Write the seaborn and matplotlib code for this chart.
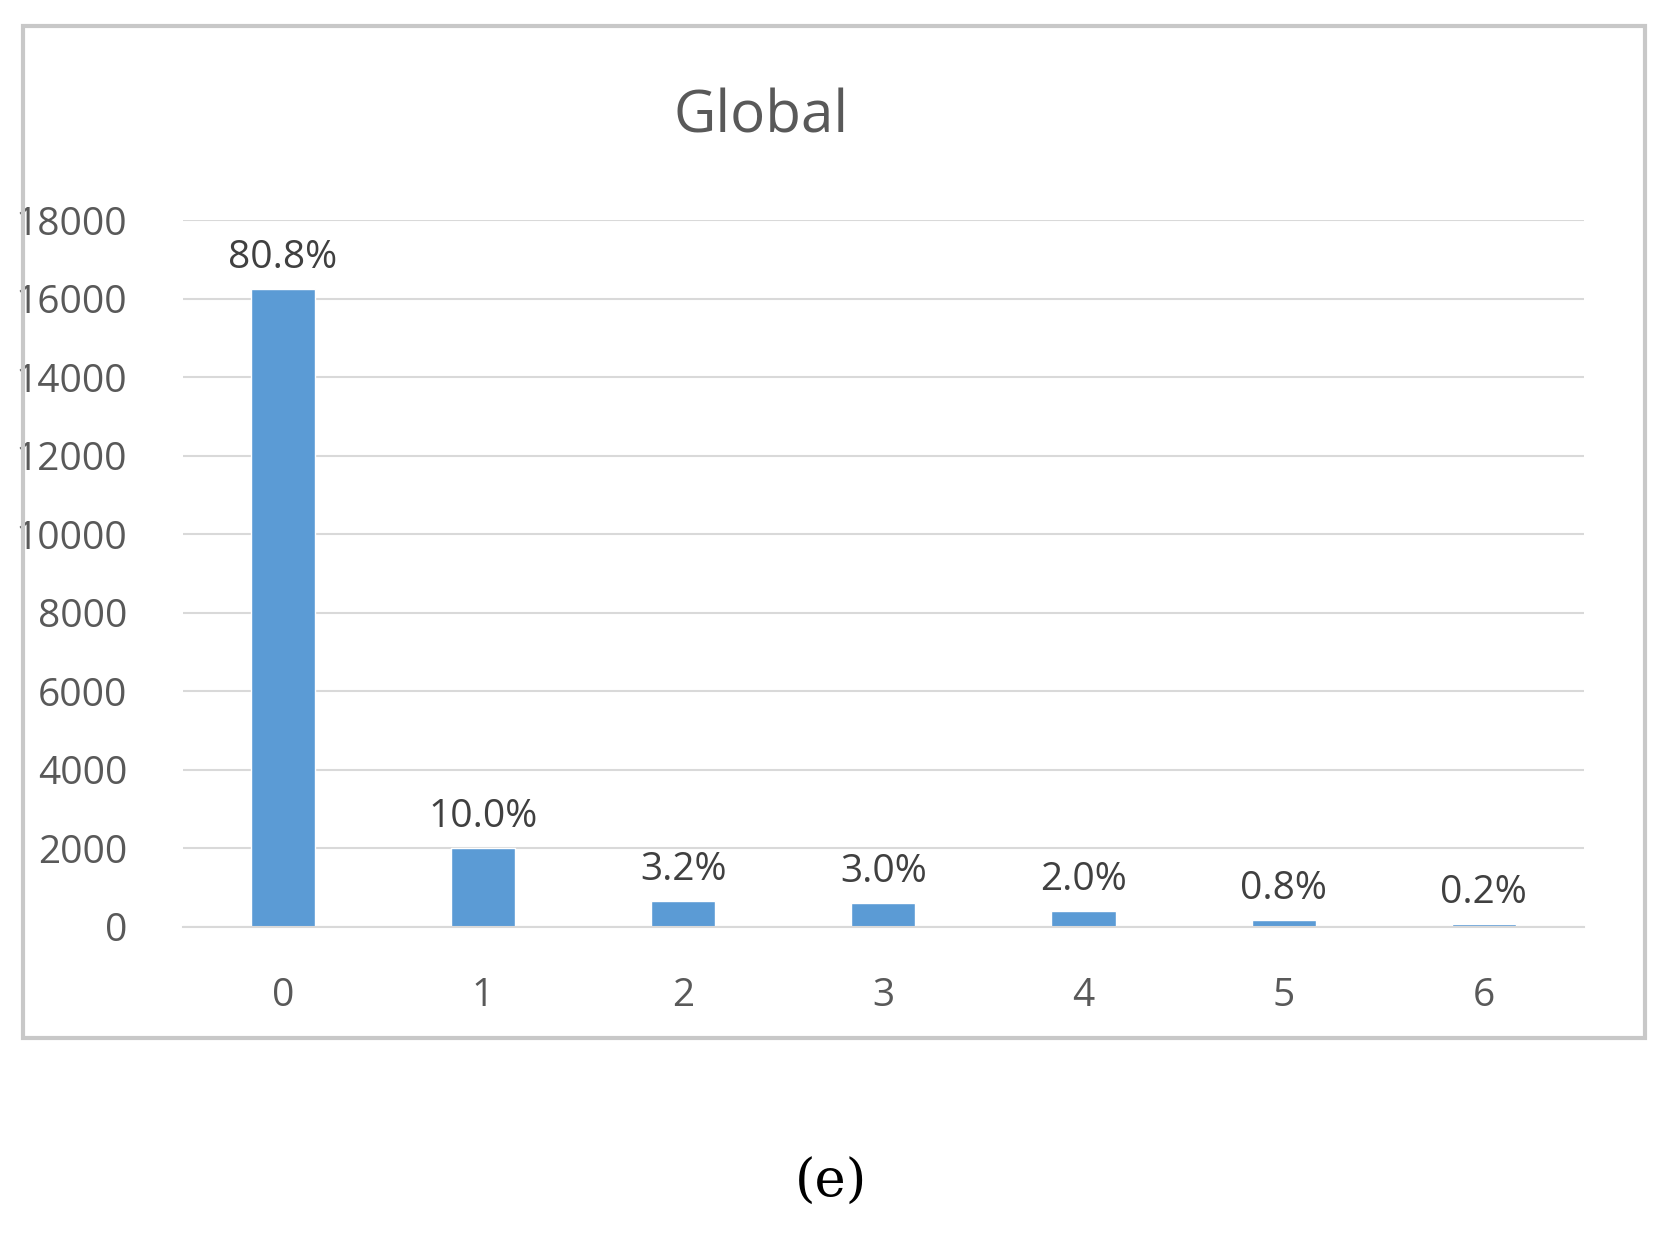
import matplotlib
matplotlib.use("Agg")
import matplotlib.pyplot as plt
import seaborn as sns
import pandas as pd
from matplotlib.patches import Rectangle

categories = ["0", "1", "2", "3", "4", "5", "6"]
counts = [16250, 2011, 644, 603, 402, 161, 70]
labels = ["80.8%", "10.0%", "3.2%", "3.0%", "2.0%", "0.8%", "0.2%"]

sns.set_theme(style="white")
plt.rcParams['font.family'] = ['Open Sans', 'DejaVu Sans']

fig = plt.figure(figsize=(16.62, 12.37), dpi=100)
fig.patches.append(Rectangle((0.014, 0.161), 0.976, 0.818, transform=fig.transFigure,
                             fill=False, edgecolor="#c8c8c8", linewidth=3))
ax = fig.add_axes([0.110, 0.251, 0.843, 0.571])
df = pd.DataFrame({"cat": categories, "val": counts})
sns.barplot(data=df, x="cat", y="val", color="#5b9bd5", saturation=1, width=0.32, ax=ax)
ax.set_xlim(-0.5, 6.5)
ax.set_ylim(0, 18000)
ax.set_yticks(range(0, 18001, 2000))
ax.yaxis.grid(True, color="#d9d9d9", linewidth=1.5)
ax.set_axisbelow(True)
for s in ["top", "right", "left"]:
    ax.spines[s].set_visible(False)
ax.spines["bottom"].set_color("#d9d9d9")
ax.spines["bottom"].set_linewidth(1.5)
ax.set_xlabel("")
ax.set_ylabel("")
ax.tick_params(axis="both", labelsize=28, colors="#595959", length=0)
ax.tick_params(axis="x", pad=36)
ax.tick_params(axis="y", pad=40)
for i, (v, l) in enumerate(zip(counts, labels)):
    ax.text(i, v + 300, l, ha="center", va="bottom", fontsize=28, color="#404040")
fig.text(0.458, 0.905, "Global", ha="center", va="center", fontsize=42, color="#595959")
fig.text(0.5, 0.044, "(e)", ha="center", va="center", fontsize=38, color="black", family="DejaVu Serif")
fig.savefig("out.png", dpi=100, facecolor="white")
